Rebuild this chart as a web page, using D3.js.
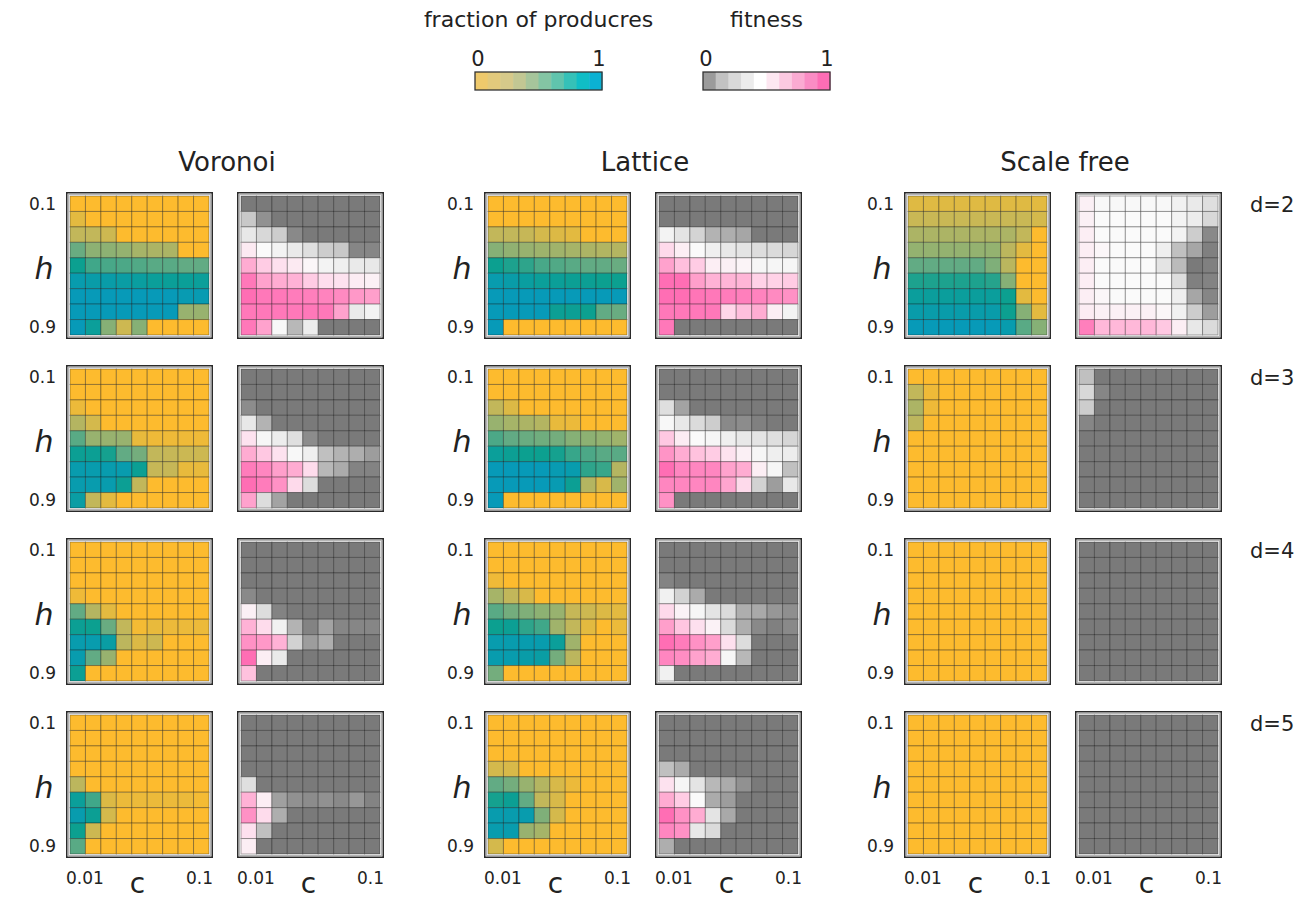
<!DOCTYPE html>
<html>
<head>
<meta charset="utf-8">
<script src="https://cdn.jsdelivr.net/npm/d3@7"></script>
<style>
  body { margin: 0; background: #fff; }
  svg { display: block; }
  text { font-family: "DejaVu Sans", sans-serif; fill: #222; }
</style>
</head>
<body>
<svg id="chart" width="1313" height="901"></svg>
<script>
// ---- axes / categories ----
const networks = ["Voronoi", "Lattice", "Scale free"];
const degrees = ["d=2", "d=3", "d=4", "d=5"];
const hValues = [0.1, 0.2, 0.3, 0.4, 0.5, 0.6, 0.7, 0.8, 0.9];
const cIndex = [0, 1, 2, 3, 4, 5, 6, 7, 8];
const hTicks = ["0.1", "0.9"];
const cTicks = ["0.01", "0.1"];
const legendTicks = ["0", "1"];

// ---- fraction of producers, one 9x9 grid per degree (rows h=0.1..0.9, cols c=0.01..0.1) ----
const voronoiFraction = [
  [[0,0,0,0,0,0,0,0,0],
   [0.15,0,0,0,0,0,0,0,0],
   [0.3,0.3,0.25,0,0,0,0,0,0],
   [0.58,0.48,0.48,0.46,0.4,0.38,0.38,0,0],
   [0.8,0.68,0.66,0.65,0.64,0.62,0.62,0.6,0.6],
   [0.95,0.92,0.92,0.9,0.88,0.85,0.84,0.84,0.85],
   [1,1,1,1,1,1,1,0.97,0.97],
   [1,1,1,1,1,1,1,0.45,0.45],
   [1,0.85,0.5,0.25,0.5,0,0,0,0]],
  [[0,0,0,0,0,0,0,0,0],
   [0,0,0,0,0,0,0,0,0],
   [0.1,0,0,0,0,0,0,0,0],
   [0.35,0.22,0,0,0,0,0,0,0],
   [0.62,0.45,0.45,0.45,0.12,0.08,0.08,0.08,0.08],
   [0.82,0.82,0.78,0.6,0.55,0.3,0.28,0.26,0.25],
   [0.95,0.95,0.95,0.95,0.82,0.28,0.28,0.12,0.12],
   [0.95,0.95,0.95,0.82,0.3,0,0,0,0],
   [0.9,0.3,0.15,0,0,0,0,0,0]],
  [[0,0,0,0,0,0,0,0,0],
   [0,0,0,0,0,0,0,0,0],
   [0,0,0,0,0,0,0,0,0],
   [0.08,0,0,0,0,0,0,0,0],
   [0.6,0.35,0.15,0,0,0,0,0,0],
   [0.82,0.8,0.58,0.3,0.05,0.12,0.1,0.1,0.1],
   [0.95,0.95,0.9,0.32,0.18,0.25,0,0,0],
   [0.95,0.6,0.45,0,0,0,0,0,0],
   [0.82,0,0,0,0,0,0,0,0]],
  [[0,0,0,0,0,0,0,0,0],
   [0,0,0,0,0,0,0,0,0],
   [0,0,0,0,0,0,0,0,0],
   [0,0,0,0,0,0,0,0,0],
   [0.32,0,0,0,0,0,0,0,0],
   [0.85,0.68,0.18,0.1,0.1,0.1,0.1,0.1,0.05],
   [0.95,0.82,0.22,0,0,0,0,0,0],
   [0.8,0.25,0,0,0,0,0,0,0],
   [0.62,0,0,0,0,0,0,0,0]]
];

const latticeFraction = [
  [[0,0,0,0,0,0,0,0,0],
   [0,0,0,0,0,0,0,0,0],
   [0.3,0.3,0.28,0.22,0.18,0.15,0,0,0],
   [0.5,0.47,0.45,0.43,0.42,0.4,0.38,0.36,0.35],
   [0.8,0.76,0.72,0.66,0.64,0.62,0.6,0.6,0.58],
   [0.95,0.92,0.88,0.85,0.84,0.82,0.82,0.8,0.8],
   [1,1,1,1,1,1,1,1,1],
   [1,1,1,1,0.82,0.82,0.8,0.6,0.58],
   [1,0,0,0,0,0,0,0,0]],
  [[0,0,0,0,0,0,0,0,0],
   [0,0,0,0,0,0,0,0,0],
   [0.3,0.18,0,0,0,0,0,0,0],
   [0.45,0.4,0.38,0.35,0.12,0.1,0,0,0],
   [0.65,0.6,0.58,0.56,0.55,0.5,0.48,0.46,0.42],
   [0.85,0.82,0.8,0.8,0.78,0.7,0.65,0.62,0.62],
   [1,1,1,1,0.97,0.95,0.72,0.7,0.35],
   [1,1,1,1,0.97,0.82,0.35,0.2,0.42],
   [1,0,0,0,0,0,0,0,0]],
  [[0,0,0,0,0,0,0,0,0],
   [0,0,0,0,0,0,0,0,0],
   [0.08,0,0,0,0,0,0,0,0],
   [0.4,0.3,0.2,0,0,0,0,0,0],
   [0.62,0.55,0.52,0.48,0.45,0.28,0.25,0.18,0.15],
   [0.8,0.82,0.72,0.68,0.42,0.3,0.15,0,0.1],
   [0.95,0.95,0.95,0.95,0.85,0.42,0,0,0],
   [0.95,0.95,0.92,0.9,0.55,0.32,0,0,0],
   [0.55,0,0,0,0,0,0,0,0]],
  [[0,0,0,0,0,0,0,0,0],
   [0,0,0,0,0,0,0,0,0],
   [0,0,0,0,0,0,0,0,0],
   [0.22,0.2,0,0,0,0,0,0,0],
   [0.6,0.55,0.45,0.35,0.2,0.1,0,0,0],
   [0.78,0.82,0.6,0.3,0.2,0,0,0,0],
   [0.95,0.95,0.95,0.52,0.22,0,0,0,0],
   [0.95,0.95,0.45,0.4,0,0,0,0,0],
   [0.22,0,0,0,0,0,0,0,0]]
];

const scaleFreeFraction = [
  [[0.17,0.17,0.17,0.17,0.17,0.17,0.17,0.17,0.15],
   [0.27,0.27,0.27,0.27,0.27,0.27,0.27,0.27,0.22],
   [0.38,0.38,0.38,0.38,0.38,0.38,0.38,0.3,0],
   [0.46,0.46,0.46,0.46,0.46,0.46,0.32,0.15,0],
   [0.6,0.6,0.6,0.6,0.6,0.52,0.33,0,0],
   [0.76,0.76,0.76,0.76,0.76,0.74,0.5,0,0],
   [0.86,0.86,0.86,0.86,0.86,0.86,0.8,0.15,0],
   [0.93,0.93,0.93,0.93,0.93,0.93,0.8,0.5,0.15],
   [1,1,1,1,1,1,0.95,0.62,0.5]],
  [[0,0,0,0,0,0,0,0,0],
   [0.3,0.08,0,0,0,0,0,0,0],
   [0.38,0.08,0,0,0,0,0,0,0],
   [0.32,0,0,0,0,0,0,0,0],
   [0,0,0,0,0,0,0,0,0],
   [0,0,0,0,0,0,0,0,0],
   [0,0,0,0,0,0,0,0,0],
   [0,0,0,0,0,0,0,0,0],
   [0,0,0,0,0,0,0,0,0]],
  [[0,0,0,0,0,0,0,0,0],
   [0,0,0,0,0,0,0,0,0],
   [0,0,0,0,0,0,0,0,0],
   [0,0,0,0,0,0,0,0,0],
   [0,0,0,0,0,0,0,0,0],
   [0,0,0,0,0,0,0,0,0],
   [0,0,0,0,0,0,0,0,0],
   [0,0,0,0,0,0,0,0,0],
   [0,0,0,0,0,0,0,0,0]],
  [[0,0,0,0,0,0,0,0,0],
   [0,0,0,0,0,0,0,0,0],
   [0,0,0,0,0,0,0,0,0],
   [0,0,0,0,0,0,0,0,0],
   [0,0,0,0,0,0,0,0,0],
   [0,0,0,0,0,0,0,0,0],
   [0,0,0,0,0,0,0,0,0],
   [0,0,0,0,0,0,0,0,0],
   [0,0,0,0,0,0,0,0,0]]
];

// ---- fitness, same layout ----
const voronoiFitness = [
  [[0,0,0,0,0,0,0,0,0],
   [0.28,0.08,0,0,0,0,0,0,0],
   [0.42,0.35,0.3,0.05,0,0,0,0,0],
   [0.58,0.5,0.47,0.43,0.38,0.3,0.28,0.04,0.04],
   [0.82,0.72,0.63,0.58,0.52,0.47,0.45,0.43,0.42],
   [0.97,0.85,0.82,0.8,0.72,0.64,0.62,0.57,0.55],
   [1,0.97,0.97,0.96,0.95,0.94,0.92,0.88,0.86],
   [0.97,0.97,0.97,0.97,0.97,0.97,0.85,0.43,0.47],
   [0.97,0.85,0.49,0.22,0.44,0,0,0,0]],
  [[0,0,0,0,0,0,0,0,0],
   [0,0,0,0,0,0,0,0,0],
   [0.06,0,0,0,0,0,0,0,0],
   [0.42,0.2,0,0,0,0,0,0,0],
   [0.62,0.48,0.44,0.38,0.06,0,0,0,0],
   [0.82,0.73,0.62,0.49,0.45,0.25,0.2,0.18,0.12],
   [0.96,0.93,0.86,0.82,0.65,0.22,0.17,0.03,0.03],
   [1,0.96,0.9,0.66,0.37,0,0,0,0],
   [0.85,0.37,0.14,0,0,0,0,0,0]],
  [[0,0,0,0,0,0,0,0,0],
   [0,0,0,0,0,0,0,0,0],
   [0,0,0,0,0,0,0,0,0],
   [0.05,0,0,0,0,0,0,0,0],
   [0.55,0.37,0.03,0,0,0,0,0,0],
   [0.8,0.65,0.46,0.2,0.03,0.14,0.04,0.04,0.04],
   [0.9,0.88,0.8,0.32,0.12,0.18,0,0,0],
   [1,0.56,0.43,0,0,0,0,0,0],
   [0.75,0,0,0,0,0,0,0,0]],
  [[0,0,0,0,0,0,0,0,0],
   [0,0,0,0,0,0,0,0,0],
   [0,0,0,0,0,0,0,0,0],
   [0,0,0,0,0,0,0,0,0],
   [0.38,0,0,0,0,0,0,0,0],
   [0.8,0.56,0.13,0.08,0.06,0.08,0.05,0.1,0.03],
   [0.9,0.65,0.18,0,0,0,0,0,0],
   [0.63,0.25,0,0,0,0,0,0,0],
   [0.56,0,0,0,0,0,0,0,0]]
];

const latticeFitness = [
  [[0,0,0,0,0,0,0,0,0],
   [0,0,0,0,0,0,0,0,0],
   [0.47,0.4,0.33,0.2,0.18,0.15,0,0,0],
   [0.66,0.56,0.5,0.45,0.42,0.4,0.37,0.36,0.34],
   [0.85,0.76,0.72,0.56,0.55,0.53,0.48,0.48,0.48],
   [1,1,0.86,0.8,0.79,0.79,0.7,0.7,0.72],
   [1,1,0.98,0.97,0.96,0.95,0.94,0.92,0.9],
   [0.97,0.97,0.97,0.97,0.68,0.76,0.82,0.56,0.47],
   [0.97,0,0,0,0,0,0,0,0]],
  [[0,0,0,0,0,0,0,0,0],
   [0,0,0,0,0,0,0,0,0],
   [0.38,0.14,0,0,0,0,0,0,0],
   [0.49,0.42,0.36,0.3,0.05,0.06,0.02,0,0],
   [0.73,0.57,0.5,0.48,0.45,0.42,0.4,0.38,0.34],
   [0.89,0.82,0.75,0.72,0.62,0.55,0.48,0.45,0.44],
   [1,0.93,0.93,0.93,0.85,0.82,0.56,0.48,0.25],
   [0.93,0.93,0.93,0.93,0.84,0.66,0.32,0.12,0.42],
   [0.9,0,0,0,0,0,0,0,0]],
  [[0,0,0,0,0,0,0,0,0],
   [0,0,0,0,0,0,0,0,0],
   [0.03,0,0,0,0,0,0,0,0],
   [0.46,0.32,0.17,0,0,0,0,0,0],
   [0.66,0.54,0.48,0.4,0.36,0.18,0.16,0.1,0.07],
   [0.86,0.74,0.63,0.54,0.36,0.18,0.05,0.02,0.05],
   [1,0.96,0.9,0.86,0.63,0.37,0,0,0],
   [0.93,0.91,0.85,0.82,0.48,0.22,0,0,0],
   [0.46,0,0,0,0,0,0,0,0]],
  [[0,0,0,0,0,0,0,0,0],
   [0,0,0,0,0,0,0,0,0],
   [0,0,0,0,0,0,0,0,0],
   [0.25,0.17,0,0,0,0,0,0,0],
   [0.62,0.48,0.4,0.22,0.17,0.08,0,0,0],
   [0.82,0.72,0.5,0.17,0.12,0,0,0,0],
   [1,0.9,0.82,0.4,0.16,0,0,0,0],
   [0.93,0.9,0.42,0.36,0,0,0,0,0],
   [0.18,0,0,0,0,0,0,0,0]]
];

const scaleFreeFitness = [
  [[0.55,0.49,0.49,0.49,0.49,0.49,0.46,0.43,0.38],
   [0.55,0.5,0.5,0.5,0.5,0.5,0.47,0.44,0.35],
   [0.56,0.5,0.5,0.5,0.5,0.5,0.47,0.3,0.05],
   [0.56,0.52,0.5,0.5,0.5,0.45,0.25,0.15,0.02],
   [0.56,0.5,0.5,0.5,0.5,0.4,0.23,0,0.02],
   [0.56,0.5,0.5,0.5,0.5,0.5,0.37,0.02,0.03],
   [0.56,0.52,0.5,0.5,0.5,0.5,0.45,0.15,0.04],
   [0.57,0.55,0.55,0.55,0.55,0.52,0.46,0.3,0.12],
   [0.95,0.78,0.78,0.78,0.78,0.73,0.56,0.42,0.36]],
  [[0.25,0,0,0,0,0,0,0,0],
   [0.35,0.04,0,0,0,0,0,0,0],
   [0.3,0,0,0,0,0,0,0,0],
   [0.04,0,0,0,0,0,0,0,0],
   [0,0,0,0,0,0,0,0,0],
   [0,0,0,0,0,0,0,0,0],
   [0,0,0,0,0,0,0,0,0],
   [0,0,0,0,0,0,0,0,0],
   [0,0,0,0,0,0,0,0,0]],
  [[0,0,0,0,0,0,0,0,0],
   [0,0,0,0,0,0,0,0,0],
   [0,0,0,0,0,0,0,0,0],
   [0,0,0,0,0,0,0,0,0],
   [0,0,0,0,0,0,0,0,0],
   [0,0,0,0,0,0,0,0,0],
   [0,0,0,0,0,0,0,0,0],
   [0,0,0,0,0,0,0,0,0],
   [0,0,0,0,0,0,0,0,0]],
  [[0,0,0,0,0,0,0,0,0],
   [0,0,0,0,0,0,0,0,0],
   [0,0,0,0,0,0,0,0,0],
   [0,0,0,0,0,0,0,0,0],
   [0,0,0,0,0,0,0,0,0],
   [0,0,0,0,0,0,0,0,0],
   [0,0,0,0,0,0,0,0,0],
   [0,0,0,0,0,0,0,0,0],
   [0,0,0,0,0,0,0,0,0]]
];

// ---- legend swatches (10 steps each) ----
const legendSteps = [0, 0.1, 0.2, 0.3, 0.4, 0.5, 0.6, 0.7, 0.8, 0.9];
const fractionLegendColors = ["#eec96c","#e2c97c","#d6c98a","#c2c793","#a6c59b","#84c5a4","#60c4ad","#35c1b8","#10bdc6","#0bb1d3"];
const fitnessLegendColors = ["#9b9b9b","#c2c2c2","#d9d9d9","#ececec","#ffffff","#fde7f1","#fcc9e1","#fbabd2","#fa8cc4","#fd6db5"];

// ---- colour scales for the cells ----
const fractionColor = d3.scaleLinear()
  .domain([0, 0.15, 0.3, 0.45, 0.6, 0.8, 1])
  .range(["#fdbb2e", "#e3ba40", "#c2b75a", "#98b26f", "#62ab84", "#0ca090", "#079ab8"])
  .clamp(true);
const fitnessColor = d3.scaleLinear()
  .domain([0, 0.15, 0.3, 0.5, 0.7, 0.85, 1])
  .range(["#7a7a7a", "#a6a6a6", "#cdcdcd", "#fafafa", "#ffd2e7", "#ffa2cd", "#ff6eb4"])
  .clamp(true);

const svg = d3.select("#chart");

// ---- layout ----
const panelSize = 147;
const inset = 4;
const networkX = d3.scaleOrdinal().domain(networks).range([66, 484, 904]);
const pairGap = 171;                     // offset of the fitness panel from the fraction panel
const rowY = d3.scaleOrdinal().domain(degrees).range([192, 365, 538, 711]);

const datasets = {
  "Voronoi":    { fraction: voronoiFraction,   fitness: voronoiFitness },
  "Lattice":    { fraction: latticeFraction,   fitness: latticeFitness },
  "Scale free": { fraction: scaleFreeFraction, fitness: scaleFreeFitness }
};

function drawPanel(x0, y0, grid, color) {
  const g = svg.append("g");
  const xs = d3.scaleBand().domain(cIndex).range([x0 + inset, x0 + panelSize - inset]);
  const ys = d3.scaleBand().domain(hValues).range([y0 + inset, y0 + panelSize - inset]);

  // frame: dark outer line, light inner line
  g.append("rect")
    .attr("x", x0 + 0.75).attr("y", y0 + 0.75)
    .attr("width", panelSize - 1.5).attr("height", panelSize - 1.5)
    .attr("fill", "#fff").attr("stroke", "#2a2a2a").attr("stroke-width", 1.5);
  g.append("rect")
    .attr("x", x0 + 2.5).attr("y", y0 + 2.5)
    .attr("width", panelSize - 5).attr("height", panelSize - 5)
    .attr("fill", "none").attr("stroke", "#b5b5b5").attr("stroke-width", 1);

  const cells = [];
  grid.forEach((row, i) => row.forEach((v, j) => cells.push({ h: hValues[i], c: cIndex[j], v })));

  g.selectAll("rect.cell").data(cells).join("rect")
    .attr("class", "cell")
    .attr("x", d => xs(d.c))
    .attr("y", d => ys(d.h))
    .attr("width", xs.bandwidth())
    .attr("height", ys.bandwidth())
    .attr("fill", d => color(d.v))
    .attr("stroke", "rgba(0,0,0,0.32)")
    .attr("stroke-width", 1);
  return { xs, ys };
}

networks.forEach((net, ni) => {
  const x0 = networkX(net);
  // column title
  svg.append("text")
    .attr("x", x0 + (panelSize + pairGap) / 2 + 2)
    .attr("y", 171)
    .attr("text-anchor", "middle")
    .attr("font-size", 26)
    .text(net);

  degrees.forEach((deg, di) => {
    const y0 = rowY(deg);
    const fr = drawPanel(x0, y0, datasets[net].fraction[di], fractionColor);
    drawPanel(x0 + pairGap, y0, datasets[net].fitness[di], fitnessColor);

    // h axis labels
    svg.append("text").attr("x", x0 - 10).attr("y", fr.ys(hValues[0]) + fr.ys.bandwidth() / 2)
      .attr("text-anchor", "end").attr("dominant-baseline", "central").attr("font-size", 17)
      .text(hTicks[0]);
    svg.append("text").attr("x", x0 - 10).attr("y", fr.ys(hValues[8]) + fr.ys.bandwidth() / 2)
      .attr("text-anchor", "end").attr("dominant-baseline", "central").attr("font-size", 17)
      .text(hTicks[1]);
    svg.append("text").attr("x", x0 - 22).attr("y", y0 + panelSize / 2 + 3)
      .attr("text-anchor", "middle").attr("dominant-baseline", "central")
      .attr("font-size", 30).attr("font-style", "italic")
      .text("h");

    // degree label on the right
    if (ni === networks.length - 1) {
      svg.append("text").attr("x", 1250).attr("y", fr.ys(hValues[0]) + fr.ys.bandwidth() / 2 + 1)
        .attr("dominant-baseline", "central").attr("font-size", 21)
        .text(deg);
    }
  });

  // c axis labels under the bottom row
  const yb = rowY(degrees[3]) + panelSize;
  [x0, x0 + pairGap].forEach(px => {
    svg.append("text").attr("x", px).attr("y", yb + 26)
      .attr("font-size", 17).text(cTicks[0]);
    svg.append("text").attr("x", px + panelSize).attr("y", yb + 26)
      .attr("text-anchor", "end").attr("font-size", 17).text(cTicks[1]);
    svg.append("text").attr("x", px + panelSize / 2 - 2).attr("y", yb + 35)
      .attr("text-anchor", "middle").attr("font-size", 28).text("c");
  });
});

// ---- colour legends ----
function drawLegend(x0, title, colors) {
  const w = 127, h = 18, y0 = 72;
  const lx = d3.scaleBand().domain(legendSteps).range([x0, x0 + w]);
  const g = svg.append("g");
  g.selectAll("rect").data(legendSteps).join("rect")
    .attr("x", d => lx(d)).attr("y", y0)
    .attr("width", lx.bandwidth() + 0.5).attr("height", h)
    .attr("fill", (d, i) => colors[i]);
  g.append("rect").attr("x", x0).attr("y", y0).attr("width", w).attr("height", h)
    .attr("fill", "none").attr("stroke", "#333").attr("stroke-width", 1.3);
  g.append("text").attr("x", x0 + w / 2).attr("y", 27).attr("text-anchor", "middle")
    .attr("font-size", 22).text(title);
  g.append("text").attr("x", x0 + 3).attr("y", 66).attr("text-anchor", "middle")
    .attr("font-size", 21).text(legendTicks[0]);
  g.append("text").attr("x", x0 + w - 3).attr("y", 66).attr("text-anchor", "middle")
    .attr("font-size", 21).text(legendTicks[1]);
}
drawLegend(475, "fraction of producres", fractionLegendColors);
drawLegend(703, "fitness", fitnessLegendColors);
</script>
</body>
</html>
